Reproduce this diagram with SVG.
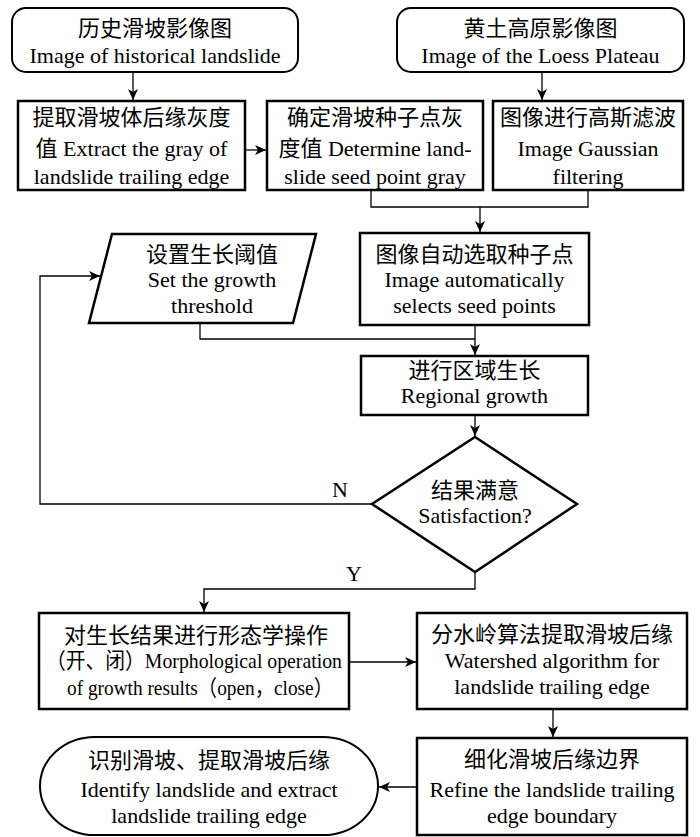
<svg xmlns="http://www.w3.org/2000/svg" width="700" height="837" viewBox="0 0 700 837">
<style>
.box{fill:#fff;stroke:#000;stroke-width:2.5}
.rbox{fill:#fff;stroke:#000;stroke-width:2}
.ln{fill:none;stroke:#000;stroke-width:1.3}
text{font-family:'Liberation Serif','DejaVu Serif','Times New Roman','Noto Sans CJK SC',serif;font-size:22px;fill:#000;text-anchor:middle}
.zh{font-family:'Noto Sans CJK SC',sans-serif}
</style>
<defs>
<marker id="ah" markerUnits="userSpaceOnUse" markerWidth="12" markerHeight="10" refX="11" refY="5" orient="auto">
<path d="M0,0 L11,5 L0,10 L3,5 z" fill="#000"/>
</marker>
</defs>
<rect width="700" height="837" fill="#fff"/>
<g id="connectors">
<path class="ln" d="M133,72 V100" marker-end="url(#ah)"/>
<path class="ln" d="M542,72 V100" marker-end="url(#ah)"/>
<path class="ln" d="M245,150 H266" marker-end="url(#ah)"/>
<path class="ln" d="M371,190 V207 H588 V190"/>
<path class="ln" d="M480,207 V232" marker-end="url(#ah)"/>
<path class="ln" d="M200,323 V339 H475"/>
<path class="ln" d="M475,325 V355" marker-end="url(#ah)"/>
<path class="ln" d="M475,415 V436" marker-end="url(#ah)"/>
<path class="ln" d="M372,504 H40 V276 H100" marker-end="url(#ah)"/>
<path class="ln" d="M475,572 V589 H204 V612" marker-end="url(#ah)"/>
<path class="ln" d="M349,662 H416" marker-end="url(#ah)"/>
<path class="ln" d="M553,709 V737" marker-end="url(#ah)"/>
<path class="ln" d="M417,787 H379" marker-end="url(#ah)"/>
<text x="340" y="497">N</text>
<text x="354" y="581">Y</text>
</g>
<g id="n1">
<rect class="rbox" x="12" y="8" width="286" height="64" rx="14"/>
<text class="zh" x="155" y="36">历史滑坡影像图</text>
<text x="155" y="63">Image of historical landslide</text>
</g>
<g id="n2">
<rect class="rbox" x="397" y="8" width="287" height="64" rx="14"/>
<text class="zh" x="540.5" y="36">黄土高原影像图</text>
<text x="540.5" y="63">Image of the Loess Plateau</text>
</g>
<g id="n3">
<rect class="box" x="18" y="101" width="227" height="89"/>
<text class="zh" x="131.5" y="125">提取滑坡体后缘灰度</text>
<text x="131.5" y="156">值 Extract the gray of</text>
<text x="131.5" y="184">landslide trailing edge</text>
</g>
<g id="n4">
<rect class="box" x="267" y="101" width="216" height="89"/>
<text class="zh" x="375" y="125">确定滑坡种子点灰</text>
<text x="375" y="156">度值 Determine land-</text>
<text x="375" y="184">slide seed point gray</text>
</g>
<g id="n5">
<rect class="box" x="493" y="101" width="190" height="89"/>
<text class="zh" x="588" y="125">图像进行高斯滤波</text>
<text x="588" y="156">Image Gaussian</text>
<text x="588" y="184">filtering</text>
</g>
<g id="n6">
<rect class="box" x="360" y="233" width="229" height="92"/>
<text class="zh" x="474.5" y="262">图像自动选取种子点</text>
<text x="474.5" y="287">Image automatically</text>
<text x="474.5" y="313">selects seed points</text>
</g>
<g id="n7">
<polygon class="box" points="112,234 316,234 293,323 89,323"/>
<text class="zh" x="212" y="262">设置生长阈值</text>
<text x="212" y="287">Set the growth</text>
<text x="212" y="313">threshold</text>
</g>
<g id="n8">
<rect class="box" x="361" y="356" width="227" height="59"/>
<text class="zh" x="474.5" y="378">进行区域生长</text>
<text x="474.5" y="403">Regional growth</text>
</g>
<g id="n9">
<polygon class="box" points="475,437 577,504 475,572 372,504"/>
<text class="zh" x="475" y="498">结果满意</text>
<text x="475" y="523">Satisfaction?</text>
</g>
<g id="n10">
<rect class="box" x="39" y="613" width="310" height="96"/>
<text class="zh" x="196" y="643">对生长结果进行形态学操作</text>
<text x="194" y="668" textLength="296" lengthAdjust="spacingAndGlyphs">（开、闭）Morphological operation</text>
<text x="200" y="695" textLength="266" lengthAdjust="spacingAndGlyphs">of growth results（open，close）</text>
</g>
<g id="n11">
<rect class="box" x="417" y="613" width="270" height="96"/>
<text class="zh" x="552" y="642">分水岭算法提取滑坡后缘</text>
<text x="552" y="668">Watershed algorithm for</text>
<text x="552" y="694">landslide trailing edge</text>
</g>
<g id="n12">
<rect class="box" x="417" y="738" width="270" height="97"/>
<text class="zh" x="552" y="767">细化滑坡后缘边界</text>
<text x="552" y="797">Refine the landslide trailing</text>
<text x="552" y="823">edge boundary</text>
</g>
<g id="n13">
<rect class="rbox" x="40" y="737" width="338" height="98" rx="55" ry="49"/>
<text class="zh" x="209" y="768">识别滑坡、提取滑坡后缘</text>
<text x="209" y="797">Identify landslide and extract</text>
<text x="209" y="823">landslide trailing edge</text>
</g>
</svg>
